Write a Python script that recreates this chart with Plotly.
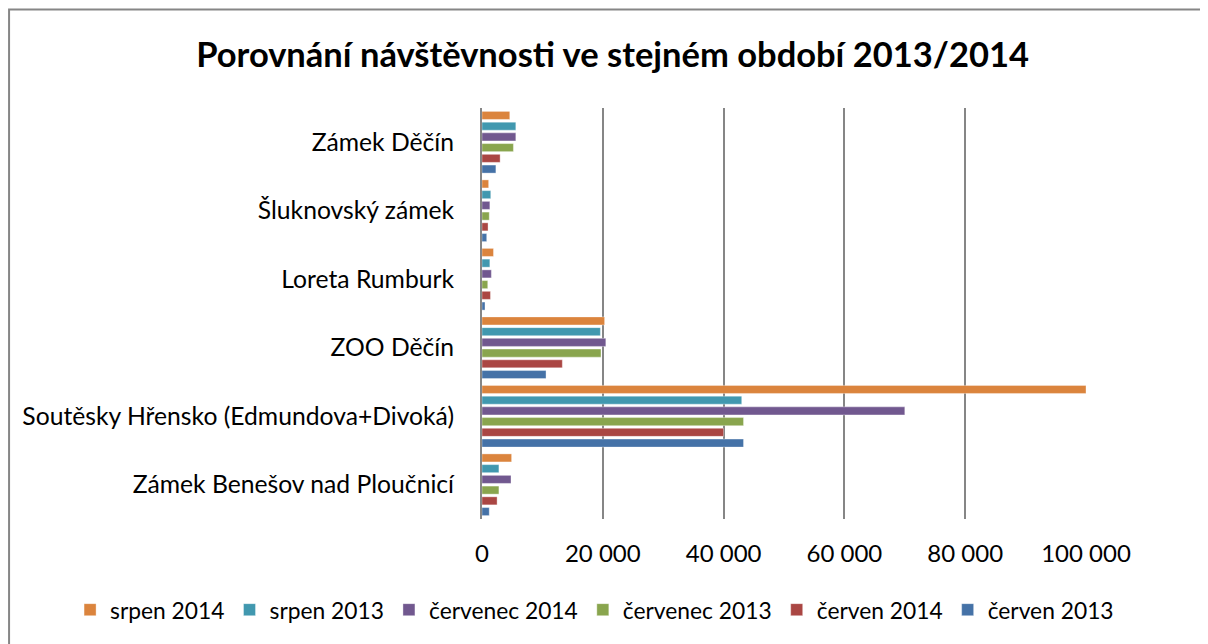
"""
Porovnání návštěvnosti ve stejném období 2013/2014 - grouped horizontal bars
"""
import plotly.graph_objects as go

# categories listed bottom -> top (plotly draws the first category at the bottom)
places = [
    "Zámek Benešov nad Ploučnicí",
    "Soutěsky Hřensko (Edmundova+Divoká)",
    "ZOO Děčín",
    "Loreta Rumburk",
    "Šluknovský zámek",
    "Zámek Děčín",
]

cerven_2013 = [1200, 43300, 10600, 500, 780, 2300]
cerven_2014 = [2500, 40000, 13300, 1400, 1000, 3000]
cervenec_2013 = [2800, 43300, 19700, 950, 1200, 5200]
cervenec_2014 = [4800, 70000, 20500, 1550, 1300, 5600]
srpen_2013 = [2800, 43000, 19600, 1300, 1450, 5600]
srpen_2014 = [4900, 100000, 20300, 1900, 1100, 4600]

x_ticks = [0, 20000, 40000, 60000, 80000, 100000]

FONT = "Lato, 'Open Sans', sans-serif"

fig = go.Figure()

for vals, name, color in [
    (cerven_2013, "červen 2013", "#4572A7"),
    (cerven_2014, "červen 2014", "#AA4643"),
    (cervenec_2013, "červenec 2013", "#89A54E"),
    (cervenec_2014, "červenec 2014", "#71588F"),
    (srpen_2013, "srpen 2013", "#4198AF"),
    (srpen_2014, "srpen 2014", "#DB843D"),
]:
    fig.add_trace(go.Bar(
        y=places, x=vals, orientation="h", name=name,
        marker=dict(color=color, line=dict(color="rgba(255,255,255,0.6)", width=0.6)),
    ))

# outer chart border (right and bottom edges fall outside the picture)
fig.add_shape(type="rect", xref="paper", yref="paper",
              x0=-0.783, x1=1.3, y0=-0.4, y1=1.2397,
              line=dict(color="#868686", width=2), fillcolor="rgba(0,0,0,0)")

# the page body keeps its default 8px margin, so the figure is 8px smaller
fig.update_layout(
    title=dict(text="<b>Porovnání návštěvnosti ve stejném období 2013/2014</b>",
               x=0.5038, xref="container", y=0.926, yanchor="middle",
               font=dict(size=34.5, color="#000000", family=FONT)),
    barmode="group", bargap=0.06, bargroupgap=0.25,
    width=1200, height=636,
    margin=dict(l=474, r=122, t=100, b=125),
    paper_bgcolor="white", plot_bgcolor="white",
    font=dict(family=FONT, size=20, color="#000000"),
    separators=", ",
    showlegend=True,
    legend=dict(orientation="h", traceorder="reversed",
                x=-0.682, xref="paper", xanchor="left",
                y=-0.221, yref="paper", yanchor="middle",
                font=dict(size=22.8), itemwidth=30, tracegroupgap=0),
)
fig.update_xaxes(range=[0, 100000], tickvals=x_ticks, tickformat=",d",
                 tickfont=dict(size=24),
                 showgrid=True, gridcolor="#868686", gridwidth=2,
                 zeroline=False, showline=False, ticks="",
                 ticklabelstandoff=18)
fig.update_yaxes(showgrid=False, showline=True, linecolor="#868686", linewidth=2,
                 tickfont=dict(size=24.7),
                 ticks="", ticklabelstandoff=21)

fig.write_html("out.html")
